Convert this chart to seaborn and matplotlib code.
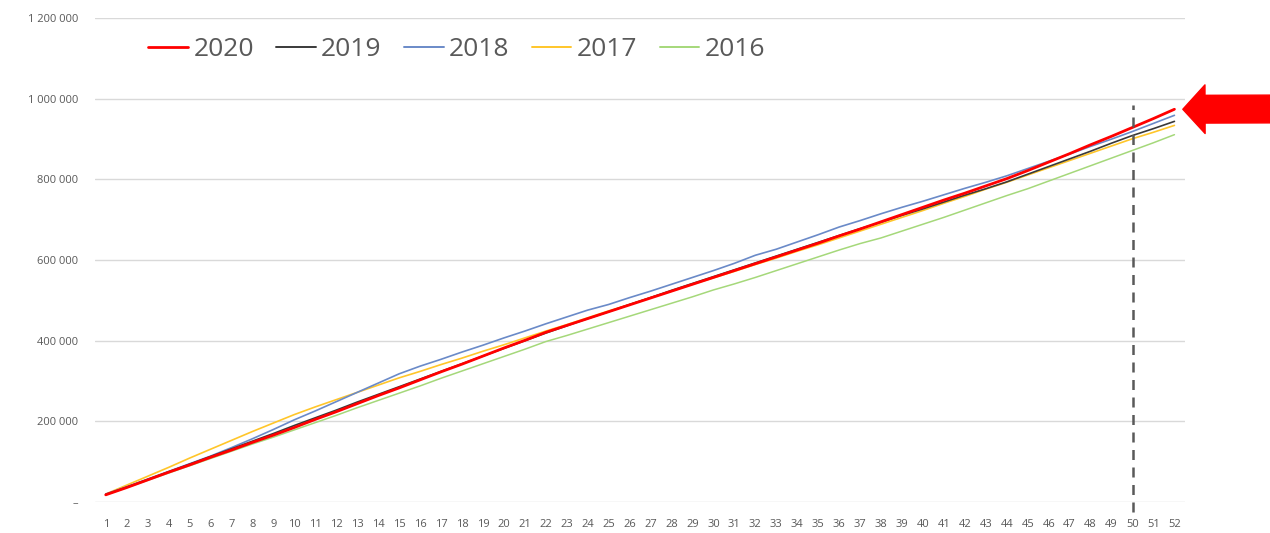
import pandas as pd
import matplotlib.pyplot as plt
import seaborn as sns

# weeks 1..52
weeks = list(range(1, 53))

y2020 = [18000, 36000, 55000, 74000, 92000, 111000, 129000, 148000, 166000, 185000,
         205000, 224000, 244000, 264000, 283000, 303000, 323000, 342000, 362000, 382000,
         401000, 421000, 438000, 455000, 472000, 489000, 506000, 523000, 540000, 557000,
         574000, 591000, 608000, 625000, 642000, 660000, 677000, 695000, 713000, 731000,
         749000, 766000, 784000, 802000, 822000, 843000, 864000, 886000, 907000, 929000,
         951000, 974000]
y2019 = [19000, 37000, 56000, 75000, 94000, 113000, 132000, 151000, 170000, 190000,
         209000, 228000, 248000, 267000, 286000, 305000, 324000, 343000, 362000, 381000,
         400000, 419000, 437000, 455000, 472000, 490000, 507000, 525000, 542000, 559000,
         576000, 593000, 610000, 627000, 644000, 661000, 678000, 694000, 711000, 727000,
         744000, 761000, 777000, 794000, 813000, 832000, 851000, 870000, 890000, 909000,
         926000, 944000]
y2018 = [20000, 38000, 57000, 76000, 95000, 114000, 135000, 157000, 180000, 204000,
         226000, 249000, 272000, 295000, 318000, 337000, 354000, 372000, 389000, 407000,
         424000, 442000, 459000, 476000, 490000, 507000, 523000, 540000, 557000, 574000,
         592000, 612000, 627000, 645000, 663000, 682000, 698000, 715000, 731000, 746000,
         762000, 778000, 793000, 809000, 827000, 845000, 863000, 882000, 900000, 919000,
         939000, 959000]
y2017 = [20000, 42000, 64000, 86000, 109000, 131000, 153000, 175000, 196000, 217000,
         236000, 254000, 272000, 290000, 308000, 324000, 341000, 357000, 374000, 390000,
         407000, 424000, 440000, 457000, 474000, 490000, 507000, 523000, 540000, 556000,
         572000, 589000, 605000, 622000, 638000, 655000, 672000, 689000, 706000, 723000,
         741000, 758000, 776000, 793000, 811000, 829000, 847000, 865000, 883000, 901000,
         917000, 934000]
y2016 = [18000, 36000, 54000, 72000, 90000, 108000, 126000, 144000, 161000, 179000,
         197000, 215000, 234000, 252000, 270000, 288000, 307000, 325000, 343000, 361000,
         379000, 398000, 413000, 429000, 445000, 461000, 477000, 493000, 509000, 526000,
         541000, 557000, 574000, 591000, 608000, 625000, 641000, 655000, 672000, 689000,
         706000, 724000, 742000, 760000, 777000, 796000, 815000, 834000, 853000, 872000,
         891000, 911000]

years = ['2020', '2019', '2018', '2017', '2016']
series = [y2020, y2019, y2018, y2017, y2016]
colors = {'2020': '#FF0000', '2019': '#3A3A3A', '2018': '#6A8AC8',
          '2017': '#FFC62A', '2016': '#A5D87A'}
widths = {'2020': 2.0, '2019': 1.2, '2018': 1.2, '2017': 1.2, '2016': 1.1}

df = pd.concat([pd.DataFrame({'week': weeks, 'value': v, 'year': y})
                for y, v in zip(years, series)])

yticks = [0, 200000, 400000, 600000, 800000, 1000000, 1200000]
ytick_labels = ['–', '200 000', '400 000', '600 000', '800 000', '1 000 000', '1 200 000']
marker_week = 50

sns.set_style('white')
plt.rcParams['font.family'] = ['Open Sans', 'DejaVu Sans']

fig = plt.figure(figsize=(12.7, 5.33), dpi=100)
ax = fig.add_axes([0.075, 0.058, 0.858, 0.908])

# draw 2016 first so 2020 ends on top
for y in years[::-1]:
    sns.lineplot(data=df[df['year'] == y], x='week', y='value', color=colors[y],
                 linewidth=widths[y], ax=ax, label=y, legend=False)

ax.set_xlim(0.5, 52.5)
ax.set_ylim(0, 1200000)
ax.set_xticks(weeks)
ax.set_xticklabels([str(w) for w in weeks], fontsize=8, color='#595959')
ax.set_yticks(yticks)
ax.set_yticklabels(ytick_labels, fontsize=8, color='#595959')
ax.tick_params(axis='x', length=0, pad=12)
ax.tick_params(axis='y', length=0, pad=12)
ax.yaxis.grid(True, color='#D9D9D9', linewidth=1)
ax.set_axisbelow(True)
for s in ax.spines.values():
    s.set_visible(False)
ax.set_xlabel('')
ax.set_ylabel('')

ax.axvline(marker_week, ymin=-0.02, ymax=0.82, color='#595959', linestyle=(0, (4, 3)),
           linewidth=1.8, clip_on=False)

handles = {l.get_label(): l for l in ax.lines}
leg = ax.legend([handles[y] for y in years], years, loc='upper left', ncol=5, frameon=False,
                fontsize=19, labelcolor='#595959', handlelength=1.5, handletextpad=0.2,
                columnspacing=0.85, bbox_to_anchor=(0.027, 1.01))
for h in leg.get_lines():
    h.set_linewidth(2.0 if h.get_color() == '#FF0000' else 1.4)

ax.annotate('', xy=(52.4, 974000), xycoords='data',
            xytext=(1.0, 1 - 109 / 533), textcoords='figure fraction',
            arrowprops=dict(arrowstyle='simple,head_width=1.75,head_length=0.8,tail_width=1.0',
                            color='#FF0000', mutation_scale=20, shrinkA=0, shrinkB=0),
            annotation_clip=False)

fig.savefig('out.png', dpi=100)
